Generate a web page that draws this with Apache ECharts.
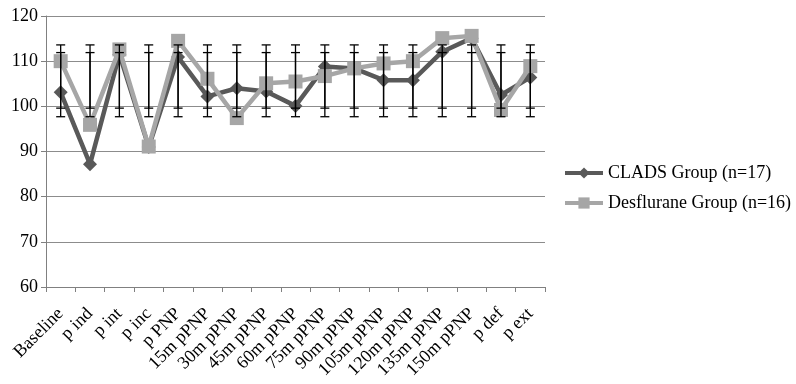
<!DOCTYPE html>
<html><head><meta charset="utf-8">
<script src="https://cdn.jsdelivr.net/npm/echarts@6/dist/echarts.min.js"></script>
<style>html,body{margin:0;padding:0;background:#fff}#c{width:796px;height:384px}</style>
</head><body><div id="c"></div>
<script>
var categories = ['Baseline','p ind','p int','p inc','p PNP','15m pPNP','30m pPNP','45m pPNP','60m pPNP','75m pPNP','90m pPNP','105m pPNP','120m pPNP','135m pPNP','150m pPNP','p def','p ext'];
var clads = [103.1,87.2,111.5,91.0,110.9,102.2,104.0,103.3,100.1,108.8,108.4,105.8,105.8,112.1,115.1,102.5,106.4];
var desflurane = [110.0,95.9,112.6,91.1,114.5,106.1,97.4,105.1,105.5,106.7,108.4,109.5,110.0,115.1,115.6,99.2,108.9];
var errOuterLow = [97.7,97.7,97.7,97.7,97.7,97.7,97.7,97.7,97.7,97.7,97.7,97.7,97.7,97.7,97.7,97.7,97.7];
var errOuterHigh = [113.6,113.6,113.6,113.6,113.6,113.6,113.6,113.6,113.6,113.6,113.6,113.6,113.6,113.6,113.6,113.6,113.6];
var errInnerLow = [99.6,99.6,99.6,99.6,99.6,99.6,99.6,99.6,99.6,99.6,99.6,99.6,99.6,99.6,99.6,99.6,99.6];
var errInnerHigh = [111.9,111.9,111.9,111.9,111.9,111.9,111.9,111.9,111.9,111.9,111.9,111.9,111.9,111.9,111.9,111.9,111.9];
var yTicks = [60,70,80,90,100,110,120];

var errOuter = categories.map(function(c,i){return [i, errOuterLow[i], errOuterHigh[i]];});
var errInner = categories.map(function(c,i){return [i, errInnerLow[i], errInnerHigh[i]];});
var chart = echarts.init(document.getElementById('c'), null, {renderer:'canvas'});
var font = '"Liberation Serif", "Times New Roman", serif';
function errRender(params,api){
  var lo=api.coord([api.value(0),api.value(1)]);
  var hi=api.coord([api.value(0),api.value(2)]);
  var w=4.5;
  var st={stroke:'#000',lineWidth:1.3};
  return {type:'group',children:[
    {type:'line',shape:{x1:lo[0],y1:lo[1],x2:hi[0],y2:hi[1]},style:st},
    {type:'line',shape:{x1:lo[0]-w,y1:lo[1],x2:lo[0]+w,y2:lo[1]},style:st},
    {type:'line',shape:{x1:hi[0]-w,y1:hi[1],x2:hi[0]+w,y2:hi[1]},style:st}
  ]};
}
chart.setOption({
  animation:false,
  textStyle:{fontFamily:font},
  grid:{left:46,right:251,top:16,bottom:97,containLabel:false},
  legend:{
    orient:'vertical', left:558, top:159, itemGap:12, itemWidth:38, itemHeight:14,
    lineStyle:{width:4},
    textStyle:{fontFamily:font,fontSize:18,color:'#000'},
    data:['CLADS Group (n=17)','Desflurane Group (n=16)']
  },
  xAxis:{
    type:'category', data:categories, boundaryGap:true,
    axisLine:{lineStyle:{color:'#808080',width:1}},
    axisTick:{show:true,alignWithLabel:false,length:5,lineStyle:{color:'#808080'}},
    axisLabel:{rotate:45,fontFamily:font,fontSize:18,color:'#000',interval:0,margin:24}
  },
  yAxis:{
    type:'value', min:60, max:120, interval:10,
    axisLine:{show:true,lineStyle:{color:'#808080'}},
    axisTick:{show:true,length:5,lineStyle:{color:'#808080'}},
    axisLabel:{fontFamily:font,fontSize:18,color:'#000',margin:8,
      formatter:function(v){return yTicks.indexOf(v)>=0?String(v):'';}},
    splitLine:{lineStyle:{color:'#8c8c8c',width:1}}
  },
  series:[
    {name:'CLADS Group (n=17)',type:'line',data:clads,symbol:'diamond',symbolSize:14,
      lineStyle:{color:'#595959',width:4.5},itemStyle:{color:'#595959'},z:2},
    {name:'Desflurane Group (n=16)',type:'line',data:desflurane,symbol:'rect',symbolSize:14,
      lineStyle:{color:'#a6a6a6',width:4.5},itemStyle:{color:'#a6a6a6'},z:3},
    {name:'errOuter',type:'custom',data:errOuter,z:10,silent:true,renderItem:errRender},
    {name:'errInner',type:'custom',data:errInner,z:10,silent:true,renderItem:errRender}
  ]
});
</script></body></html>
